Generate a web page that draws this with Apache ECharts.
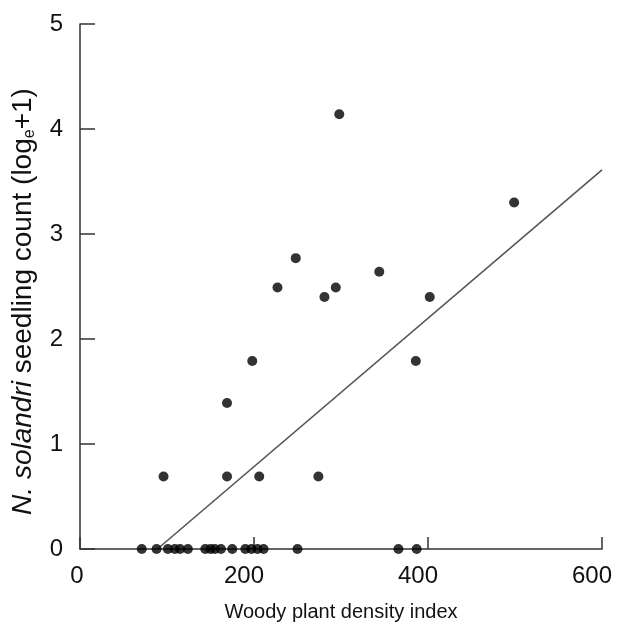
<!DOCTYPE html>
<html>
<head>
<meta charset="utf-8">
<script src="https://cdn.jsdelivr.net/npm/echarts@6/dist/echarts.min.js"></script>
<style>
  html, body { margin: 0; padding: 0; background: #fff; }
  #chart { width: 617px; height: 633px; }
</style>
</head>
<body>
<div id="chart"></div>
<script>
// Woody plant density index of each plot
const densityIndex = [
  71, 88, 101, 109, 115, 124, 144, 150, 155, 162, 175, 190, 197, 204, 211, 250, 366, 387,
  96, 169, 206, 274, 169, 198, 386, 281, 402, 227, 294, 344, 248, 499, 298
];
// Seedling count, log_e(n + 1), for the same plots
const seedlingLog = [
  0, 0, 0, 0, 0, 0, 0, 0, 0, 0, 0, 0, 0, 0, 0, 0, 0, 0,
  0.69, 0.69, 0.69, 0.69, 1.39, 1.79, 1.79, 2.40, 2.40, 2.49, 2.49, 2.64, 2.77, 3.30, 4.14
];
// Fitted relationship, start and end
const fitX = [89, 600];
const fitY = [0, 3.61];

const xTicks = [0, 200, 400, 600];
const yTicks = [0, 1, 2, 3, 4, 5];

const FONT = '"Liberation Sans", Arial, Helvetica, sans-serif';
const INK = '#111';

const points = densityIndex.map((x, i) => [x, seedlingLog[i]]);
const fitLine = fitX.map((x, i) => [x, fitY[i]]);

const chart = echarts.init(document.getElementById('chart'), null, { renderer: 'canvas' });
chart.setOption({
  animation: false,
  backgroundColor: '#ffffff',
  grid: { left: 80, right: 15, top: 24, bottom: 84, containLabel: false },
  xAxis: {
    type: 'value',
    min: xTicks[0],
    max: xTicks[xTicks.length - 1],
    interval: xTicks[1] - xTicks[0],
    name: 'Woody plant density index',
    nameLocation: 'middle',
    nameGap: 53,
    nameTextStyle: { fontFamily: FONT, fontSize: 20, color: INK },
    axisLine: { show: true, onZero: false, lineStyle: { color: '#333', width: 1.5 } },
    axisTick: { show: true, inside: true, length: 12, lineStyle: { color: '#333', width: 1.5 } },
    axisLabel: {
      margin: 15,
      fontFamily: FONT,
      fontSize: 24,
      color: INK,
      formatter: v => (v === 0 ? '{z|0}' : '{s|' + v + '}'),
      rich: {
        z: { fontFamily: FONT, fontSize: 24, color: INK, padding: [0, 6, 0, 0] },
        s: { fontFamily: FONT, fontSize: 24, color: INK, padding: [0, 20, 0, 0] }
      }
    },
    splitLine: { show: false }
  },
  yAxis: {
    type: 'value',
    min: yTicks[0],
    max: yTicks[yTicks.length - 1],
    interval: yTicks[1] - yTicks[0],
    name: '{i|N. solandri} seedling count (log{sub|e}+1)',
    nameLocation: 'middle',
    nameGap: 42,
    nameRotate: 90,
    nameTextStyle: {
      fontFamily: FONT, fontSize: 28, color: INK, lineHeight: 30,
      padding: [0, 30, 0, 0],
      rich: {
        i: { fontFamily: FONT, fontSize: 28, fontStyle: 'italic', color: INK, lineHeight: 30 },
        sub: { fontFamily: FONT, fontSize: 16, color: INK, verticalAlign: 'bottom', lineHeight: 30 }
      }
    },
    axisLine: { show: true, onZero: false, lineStyle: { color: '#333', width: 1.5 } },
    axisTick: { show: true, inside: true, length: 15, lineStyle: { color: '#333', width: 1.5 } },
    axisLabel: { margin: 17, fontFamily: FONT, fontSize: 24, color: INK },
    splitLine: { show: false }
  },
  series: [
    {
      type: 'line',
      data: fitLine,
      symbol: 'none',
      lineStyle: { color: '#555', width: 1.6 },
      z: 1
    },
    {
      type: 'scatter',
      data: points,
      symbol: 'circle',
      symbolSize: 10,
      itemStyle: { color: '#000' },
      z: 2
    }
  ]
});
</script>
</body>
</html>
